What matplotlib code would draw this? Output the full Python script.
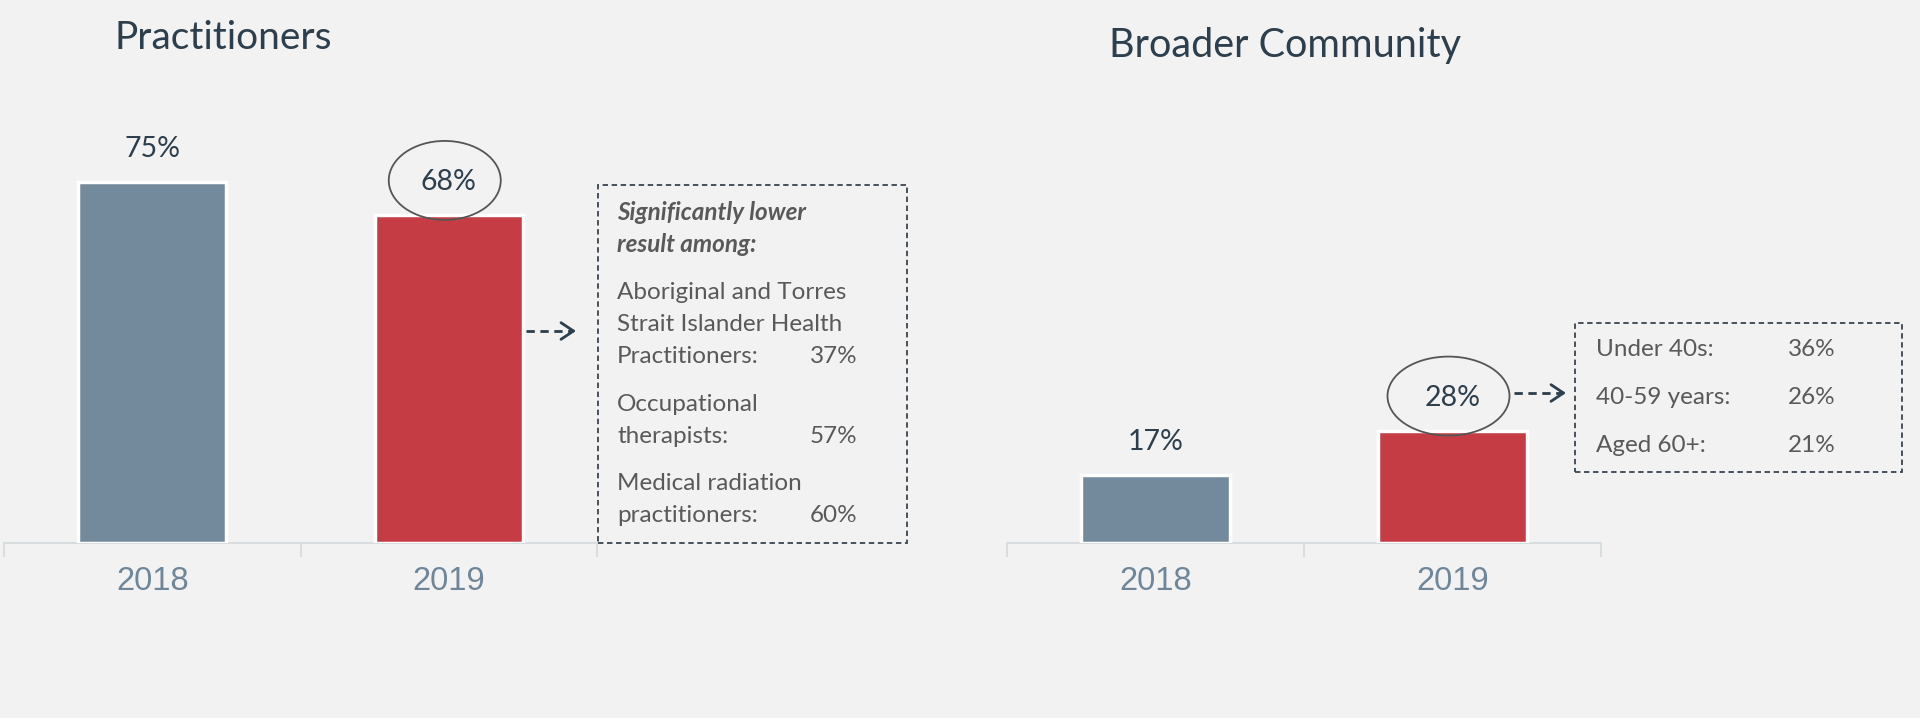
import matplotlib.pyplot as plt
from matplotlib.patches import Ellipse, Rectangle, FancyArrowPatch
from matplotlib.transforms import IdentityTransform

plt.rcParams['font.family'] = ['Lato', 'DejaVu Sans']

# --- data ---
years = ['2018', '2019']
practitioners = [75, 68]
community = [17, 28]

prac_note_head = ['Significantly lower', 'result among:']
prac_groups = [['Aboriginal and Torres', 'Strait Islander Health', 'Practitioners:'],
               ['Occupational', 'therapists:'],
               ['Medical radiation', 'practitioners:']]
prac_group_vals = ['37%', '57%', '60%']

comm_groups = ['Under 40s:', '40-59 years:', 'Aged 60+:']
comm_group_vals = ['36%', '26%', '21%']

# --- style ---
BG = '#f2f2f2'
BAR_COLORS = ['#728a9c', '#c63c45']
DARK = '#2d3e4c'
NOTE = '#595959'
TICK = '#6f8699'
W, H = 1920, 718


def fp(x, y):
    # image pixel (top-left origin) -> figure fraction
    return x / W, 1 - y / H


fig = plt.figure(figsize=(19.2, 7.18), dpi=100, facecolor=BG)

ax1 = fig.add_axes([4 / W, 1 - 542.5 / H, 593 / W, 442.5 / H])
ax2 = fig.add_axes([1007 / W, 1 - 542.5 / H, 594 / W, 442.5 / H])


def draw_panel(ax, values, ytop):
    ax.set_facecolor(BG)
    ax.bar(range(len(values)), values, width=0.5, color=BAR_COLORS,
           edgecolor='white', linewidth=2.5, zorder=3)
    ax.set_xlim(-0.5, 1.5)
    ax.set_ylim(0, ytop)
    for s in ['top', 'right', 'left']:
        ax.spines[s].set_visible(False)
    ax.spines['bottom'].set_color('#d9dde0')
    ax.spines['bottom'].set_linewidth(1.5)
    ax.set_yticks([])
    ax.set_xticks([0, 1])
    ax.set_xticklabels(years, fontsize=23.5, color=TICK, family='Liberation Sans')
    ax.tick_params(axis='x', which='major', length=0, pad=17)
    ax.set_xticks([-0.5, 0.5, 1.5], minor=True)
    ax.tick_params(axis='x', which='minor', length=10, width=1.5, color='#d9dde0')
    for i, v in enumerate(values):
        ax.annotate(f'{v}%', (i, v), xytext=(0, 33), textcoords='offset pixels',
                    ha='center', va='center', fontsize=20.5, color=DARK)


draw_panel(ax1, practitioners, 92.0)
draw_panel(ax2, community, 111.2)

# ellipses around the 2019 labels
for ax, vals, ew in [(ax1, practitioners, 112), (ax2, community, 122)]:
    cx, cy = ax.transData.transform((1, vals[1]))
    fig.add_artist(Ellipse((cx - 4, cy + 35), ew, 79, fill=False,
                           edgecolor='#555555', linewidth=1.3,
                           transform=IdentityTransform(), zorder=5))

# titles
fig.text(*fp(115, 38), 'Practitioners', fontsize=28, color=DARK, va='center')
fig.text(*fp(1109, 45), 'Broader Community', fontsize=28.5, color=DARK, va='center')


# arrows
def arrow(x0, x1, y):
    fig.add_artist(plt.Line2D([x0 / W, (x1 - 4) / W], [1 - y / H, 1 - y / H],
                              transform=fig.transFigure, color=DARK, lw=2,
                              linestyle=(0, (3, 2)), zorder=6))
    fig.add_artist(FancyArrowPatch(fp(x1 - 6, y), fp(x1, y),
                                   transform=fig.transFigure,
                                   arrowstyle='->,head_length=9,head_width=6',
                                   color=DARK, lw=2, shrinkA=0, shrinkB=0, zorder=6))


arrow(526, 576, 331)
arrow(1514, 1566, 393)

# note boxes
for (x0, y0, x1, y1) in [(598, 185, 907, 543), (1575, 323, 1902, 472)]:
    fig.add_artist(Rectangle(fp(x0, y1), (x1 - x0) / W, (y1 - y0) / H, fill=False,
                             edgecolor='#3a4550', linewidth=1.3, linestyle=(0, (3, 2)),
                             transform=fig.transFigure))

note_kw = dict(fontsize=17.5, color=NOTE, va='center')
y = 212
for line in prac_note_head:
    fig.text(*fp(617, y), line, fontweight='bold', fontstyle='italic', **note_kw)
    y += 32
y += 16
for lines, val in zip(prac_groups, prac_group_vals):
    for line in lines:
        fig.text(*fp(617, y), line, **note_kw)
        y += 32
    fig.text(*fp(810, y - 32), val, **note_kw)
    y += 16

for i, (lab, val) in enumerate(zip(comm_groups, comm_group_vals)):
    yy = 350 + i * 48
    fig.text(*fp(1596, yy), lab, **note_kw)
    fig.text(*fp(1788, yy), val, **note_kw)

fig.savefig('out.png', dpi=100, facecolor=BG)
